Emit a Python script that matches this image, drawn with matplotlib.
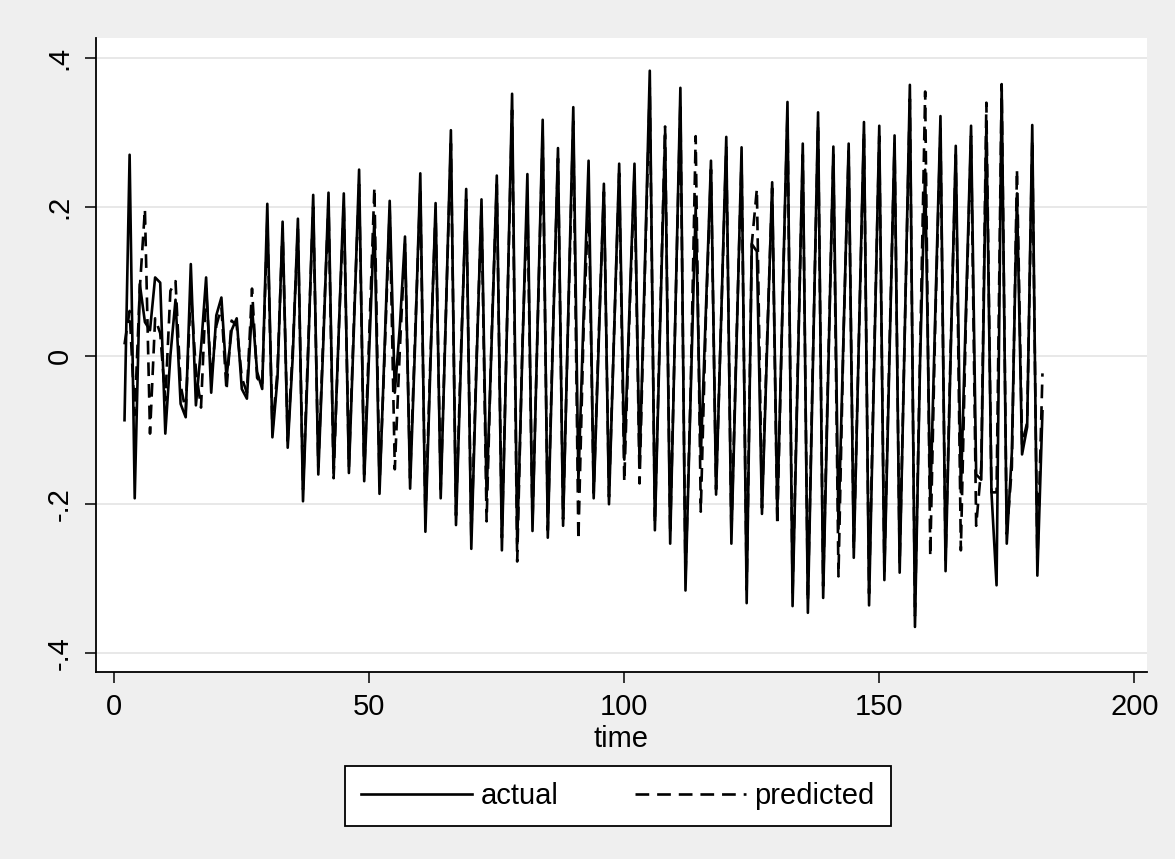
import matplotlib
matplotlib.use("Agg")
import matplotlib.pyplot as plt
from matplotlib.lines import Line2D

time = list(range(2, 183))

actual = [
    -0.087, 0.270, -0.192, 0.096, 0.045, 0.034, 0.105, 0.098, -0.105, 0.000,   # 2-11
    0.075, -0.065, -0.083, 0.123, -0.067, 0.010, 0.105, -0.050, 0.054, 0.078,  # 12-21
    -0.030, 0.034, 0.050, -0.045, -0.058, 0.065, -0.022, -0.045, 0.204, -0.110,  # 22-31
    -0.030, 0.180, -0.124, 0.000, 0.184, -0.196, 0.000, 0.216, -0.160, 0.020,  # 32-41
    0.219, -0.158, 0.030, 0.218, -0.158, 0.040, 0.250, -0.169, 0.010, 0.185,   # 42-51
    -0.186, 0.010, 0.208, -0.050, 0.040, 0.160, -0.179, 0.020, 0.245, -0.237,  # 52-61
    -0.010, 0.205, -0.192, 0.050, 0.303, -0.228, 0.000, 0.224, -0.260, -0.020,  # 62-71
    0.210, -0.190, 0.020, 0.242, -0.262, 0.040, 0.352, -0.253, 0.000, 0.244,   # 72-81
    -0.236, 0.040, 0.317, -0.245, 0.020, 0.279, -0.229, 0.050, 0.334, -0.170,  # 82-91
    0.050, 0.262, -0.192, 0.020, 0.231, -0.200, 0.030, 0.258, -0.140, 0.060,   # 92-101
    0.258, -0.150, 0.110, 0.383, -0.235, 0.030, 0.298, -0.253, 0.050, 0.360,   # 102-111
    -0.316, -0.060, 0.200, -0.136, 0.060, 0.262, -0.187, 0.050, 0.294, -0.253,  # 112-121
    0.010, 0.280, -0.333, 0.150, 0.140, -0.213, 0.010, 0.233, -0.213, 0.060,   # 122-131
    0.341, -0.337, -0.030, 0.285, -0.346, -0.010, 0.327, -0.326, -0.020, 0.281,  # 132-141
    -0.233, 0.030, 0.285, -0.272, 0.020, 0.314, -0.336, -0.010, 0.309, -0.302,  # 142-151
    0.000, 0.296, -0.292, 0.030, 0.364, -0.365, -0.010, 0.250, -0.200, 0.060,  # 152-161
    0.322, -0.290, 0.000, 0.282, -0.184, 0.060, 0.309, -0.160, -0.167, 0.310,  # 162-171
    -0.184, -0.309, 0.364, -0.253, -0.130, 0.218, -0.133, -0.096, 0.310, -0.296,  # 172-181
    -0.075,  # 182
]

predicted = [
    0.015, 0.060, -0.080, 0.090, 0.197, -0.105, 0.050, 0.030, -0.060, 0.087,   # 2-11
    0.100, -0.040, -0.075, 0.087, -0.020, -0.070, 0.090, -0.030, 0.040, 0.065,  # 12-21
    -0.047, 0.047, 0.040, -0.030, -0.050, 0.090, -0.030, -0.040, 0.180, -0.100,  # 22-31
    -0.020, 0.170, -0.115, 0.010, 0.170, -0.180, 0.010, 0.200, -0.150, 0.030,  # 32-41
    0.205, -0.165, 0.030, 0.205, -0.150, 0.050, 0.230, -0.160, 0.030, 0.226,   # 42-51
    -0.175, 0.000, 0.195, -0.153, 0.010, 0.150, -0.165, 0.030, 0.225, -0.220,  # 52-61
    0.000, 0.195, -0.180, 0.050, 0.285, -0.215, 0.010, 0.210, -0.245, -0.010,  # 62-71
    0.200, -0.223, 0.030, 0.230, -0.245, 0.040, 0.330, -0.277, 0.010, 0.210,   # 72-81
    -0.225, 0.040, 0.300, -0.235, 0.030, 0.265, -0.220, 0.050, 0.315, -0.248,  # 82-91
    0.030, 0.215, -0.185, 0.030, 0.220, -0.190, 0.030, 0.245, -0.170, 0.050,   # 92-101
    0.245, -0.172, 0.100, 0.360, -0.225, 0.040, 0.308, -0.240, 0.050, 0.340,   # 102-111
    -0.300, -0.050, 0.295, -0.210, 0.050, 0.250, -0.180, 0.050, 0.280, -0.240,  # 112-121
    0.020, 0.265, -0.315, 0.150, 0.224, -0.205, 0.020, 0.225, -0.228, 0.060,   # 122-131
    0.325, -0.320, -0.020, 0.270, -0.330, 0.000, 0.310, -0.310, -0.010, 0.270,  # 132-141
    -0.297, 0.030, 0.275, -0.260, 0.020, 0.300, -0.320, 0.000, 0.295, -0.290,  # 142-151
    0.010, 0.285, -0.280, 0.030, 0.345, -0.350, 0.000, 0.355, -0.270, 0.050,   # 152-161
    0.305, -0.275, 0.010, 0.270, -0.262, 0.050, 0.295, -0.229, -0.150, 0.340,  # 162-171
    -0.184, -0.184, 0.365, -0.240, -0.150, 0.250, -0.120, -0.090, 0.290, -0.280,  # 172-181
    -0.024,  # 182
]

xticks = [0, 50, 100, 150, 200]
yticks = [-0.4, -0.2, 0.0, 0.2, 0.4]
ytick_labels = ["-.4", "-.2", "0", ".2", ".4"]

plt.rcParams["font.family"] = ["Liberation Sans", "DejaVu Sans"]
plt.rcParams["lines.scale_dashes"] = True

LW = 1.9
DASH = (5.2, 3.0)

W, H = 1175, 859
fig = plt.figure(figsize=(W / 100, H / 100), dpi=100)
fig.patch.set_facecolor("#efefef")

left, right, bottom, top = 95.7 / W, 1147 / W, (H - 672.3) / H, (H - 38) / H
ax = fig.add_axes([left, bottom, right - left, top - bottom])
ax.set_facecolor("white")

ax.plot(time, actual, color="black", lw=LW, zorder=3)
ax.plot(time, predicted, color="black", lw=LW, dashes=DASH, zorder=3)

ax.set_xlim(-3.65, 202.5)
ax.set_ylim(-0.426, 0.427)
ax.set_xticks(xticks)
ax.set_xticklabels([str(v) for v in xticks])
ax.set_yticks(yticks)
ax.set_yticklabels(ytick_labels, rotation=90, va="center")

ax.grid(axis="y", color="#e6e6e6", lw=1.3, zorder=0)
ax.grid(axis="x", visible=False)
for s in ["top", "right"]:
    ax.spines[s].set_visible(False)
for s in ["left", "bottom"]:
    ax.spines[s].set_color("black")
    ax.spines[s].set_linewidth(1.3)
ax.tick_params(axis="both", direction="out", length=8, width=1.1, labelsize=21, colors="black")
ax.tick_params(axis="x", pad=7)
ax.tick_params(axis="y", pad=8)
ax.set_xlabel("time", fontsize=21, labelpad=3)

handles = [
    Line2D([], [], color="black", lw=LW),
    Line2D([], [], color="black", lw=LW, dashes=DASH),
]
leg = fig.legend(handles, ["actual", "predicted"], loc="center",
                 bbox_to_anchor=(618 / W, 1 - 796 / H), ncol=2, fontsize=21,
                 handlelength=3.8, handletextpad=0.3, columnspacing=2.6,
                 frameon=True, fancybox=False, framealpha=1.0,
                 borderpad=0.55, borderaxespad=0)
leg.get_frame().set_edgecolor("black")
leg.get_frame().set_linewidth(1.3)
leg.get_frame().set_facecolor("white")

fig.savefig("out.png", dpi=100, facecolor=fig.get_facecolor())
